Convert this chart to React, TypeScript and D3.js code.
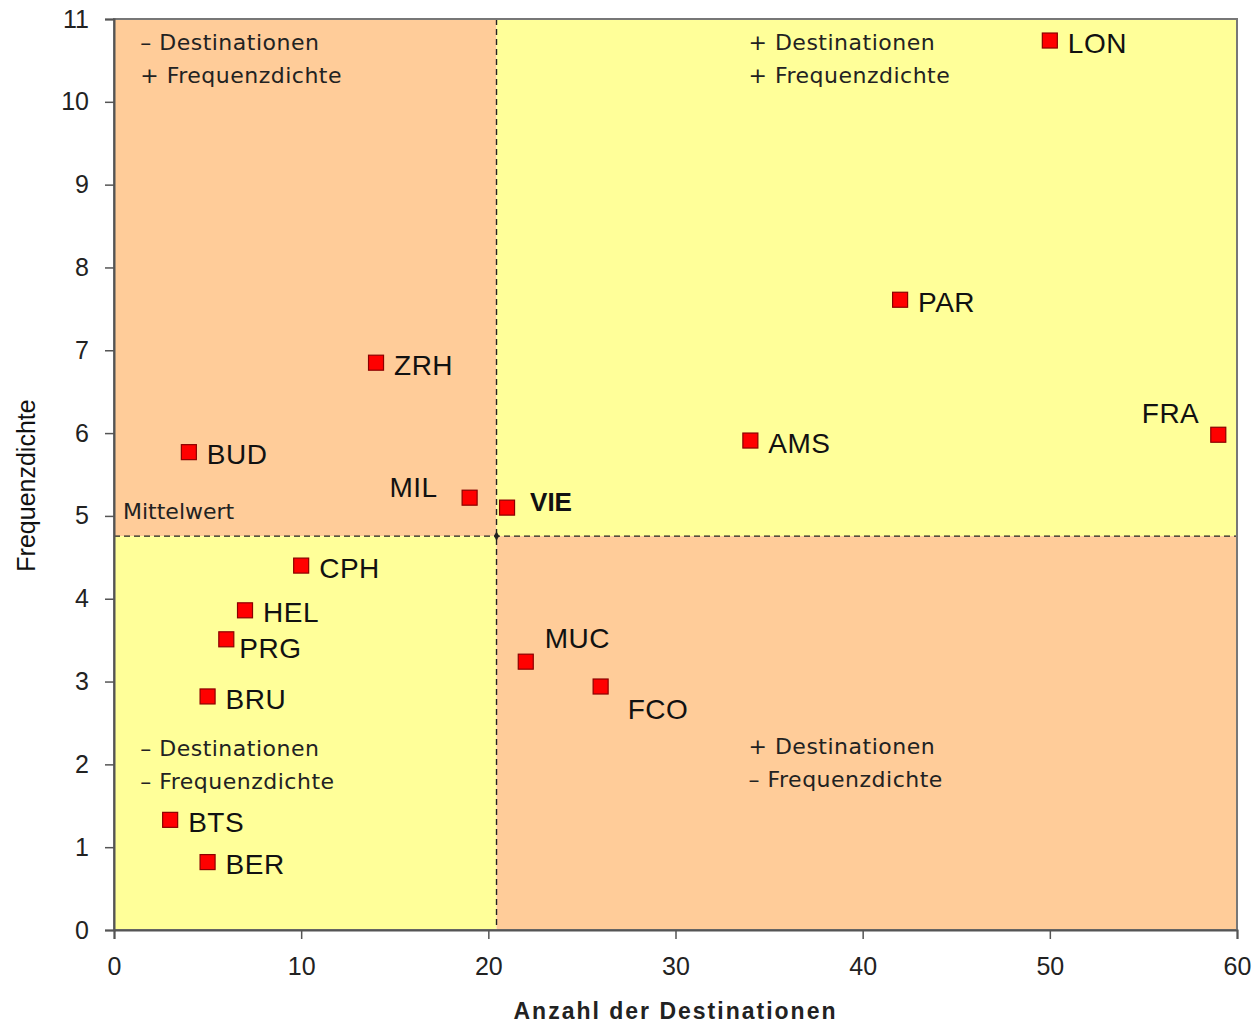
import { useEffect, useRef } from 'react';
import * as d3 from 'd3';

// airports: destinations count vs frequency density
const CODES = ['LON', 'PAR', 'FRA', 'AMS', 'ZRH', 'BUD', 'MIL', 'VIE', 'CPH', 'HEL', 'PRG', 'BRU', 'BTS', 'BER', 'MUC', 'FCO'];
const DESTINATIONS = [50, 42, 59, 34, 14, 4, 19, 21, 10, 7, 6, 5, 3, 5, 22, 26];
const FREQUENCY = [10.74, 7.61, 5.98, 5.91, 6.85, 5.77, 5.22, 5.1, 4.4, 3.86, 3.51, 2.82, 1.33, 0.82, 3.24, 2.94];
// where each label sits relative to its marker
const LABEL_SIDE = ['right', 'right', 'upLeft', 'right', 'right', 'right', 'left', 'bold', 'right', 'right', 'lowRight', 'right', 'right', 'right', 'upRight', 'downRight'];

const X_TICKS = [0, 10, 20, 30, 40, 50, 60];
const Y_TICKS = [0, 1, 2, 3, 4, 5, 6, 7, 8, 9, 10, 11];

// quadrant captions, anchored in data units
const QUAD_LINES = [
  ['– Destinationen', '+ Frequenzdichte'],
  ['+ Destinationen', '+ Frequenzdichte'],
  ['– Destinationen', '– Frequenzdichte'],
  ['+ Destinationen', '– Frequenzdichte'],
];
const QUAD_X = [1.4, 33.9, 1.4, 33.9];
const QUAD_Y = [10.72, 10.72, 2.2, 2.22];

const ORANGE = '#ffcc99';
const YELLOW = '#ffff99';
const ANNO_FONT = '"DejaVu Sans", Verdana, sans-serif';
const AXIS_FONT = '"Liberation Sans", Arial, sans-serif';

export default function App() {
  const ref = useRef<SVGSVGElement>(null);

  useEffect(() => {
    if (!ref.current) return;
    document.body.style.margin = '0';
    const svg = d3.select(ref.current);
    svg.selectAll('*').remove();

    const W = 1252, H = 1024;
    const left = 114, top = 19, right = 1237, bottom = 930;
    const x = d3.scaleLinear().domain([0, 60]).range([left, right]);
    const y = d3.scaleLinear().domain([0, 11]).range([bottom, top]);

    const meanX = d3.mean(DESTINATIONS) as number;
    const meanY = d3.mean(FREQUENCY) as number;

    svg.attr('width', W).attr('height', H);
    const g = svg.append('g');

    // quadrant backgrounds
    const quads = [
      { x0: 0, x1: meanX, y0: meanY, y1: 11, c: ORANGE },
      { x0: meanX, x1: 60, y0: meanY, y1: 11, c: YELLOW },
      { x0: 0, x1: meanX, y0: 0, y1: meanY, c: YELLOW },
      { x0: meanX, x1: 60, y0: 0, y1: meanY, c: ORANGE },
    ];
    g.selectAll('rect.quad').data(quads).join('rect')
      .attr('x', d => x(d.x0)).attr('y', d => y(d.y1))
      .attr('width', d => x(d.x1) - x(d.x0)).attr('height', d => y(d.y0) - y(d.y1))
      .attr('fill', d => d.c);

    // mean lines
    g.append('line')
      .attr('x1', x(meanX)).attr('x2', x(meanX)).attr('y1', y(11)).attr('y2', y(0))
      .attr('stroke', '#222').attr('stroke-width', 1.4).attr('stroke-dasharray', '6,4');
    g.append('line')
      .attr('x1', x(0)).attr('x2', x(60)).attr('y1', y(meanY)).attr('y2', y(meanY))
      .attr('stroke', '#222').attr('stroke-width', 1.4).attr('stroke-dasharray', '6,4');
    g.append('path')
      .attr('d', d3.symbol(d3.symbolDiamond, 24)() as string)
      .attr('transform', `translate(${x(meanX)},${y(meanY)})`)
      .attr('fill', '#222');

    // plot border
    g.append('rect')
      .attr('x', left).attr('y', top).attr('width', right - left).attr('height', bottom - top)
      .attr('fill', 'none').attr('stroke', '#777').attr('stroke-width', 2);

    // axes
    const xAxis = g.append('g').attr('transform', `translate(0,${bottom})`)
      .call(d3.axisBottom(x).tickValues(X_TICKS).tickSize(9).tickPadding(18).tickFormat(d3.format('d')));
    const yAxis = g.append('g').attr('transform', `translate(${left},0)`)
      .call(d3.axisLeft(y).tickValues(Y_TICKS).tickSize(9).tickPadding(16).tickFormat(d3.format('d')));
    [xAxis, yAxis].forEach(a => {
      a.select('.domain').attr('stroke', '#555').attr('stroke-width', 2);
      a.selectAll('.tick line').attr('stroke', '#555').attr('stroke-width', 1.5);
      a.selectAll('text').attr('fill', '#222').attr('font-size', 25).attr('font-family', AXIS_FONT);
    });

    // axis titles
    g.append('text')
      .attr('x', (left + right) / 2).attr('y', 1019)
      .attr('text-anchor', 'middle').attr('font-family', AXIS_FONT).attr('font-weight', 'bold')
      .attr('font-size', 23).attr('letter-spacing', 2).attr('fill', '#222')
      .text('Anzahl der Destinationen');
    g.append('text')
      .attr('transform', `translate(35,${(top + bottom) / 2 + 11}) rotate(-90)`)
      .attr('text-anchor', 'middle').attr('font-family', AXIS_FONT)
      .attr('font-size', 25).attr('fill', '#111')
      .text('Frequenzdichte');

    // quadrant captions
    QUAD_LINES.forEach((lines, i) => {
      lines.forEach((t, j) => {
        g.append('text')
          .attr('x', x(QUAD_X[i])).attr('y', y(QUAD_Y[i]) + j * 33)
          .attr('dy', '0.35em').attr('font-family', ANNO_FONT).attr('font-size', 22)
          .attr('letter-spacing', 0.5).attr('fill', '#222').text(t);
      });
    });

    g.append('text')
      .attr('x', left + 9).attr('y', y(meanY) - 25).attr('dy', '0.35em')
      .attr('font-family', ANNO_FONT).attr('font-size', 22).attr('fill', '#222')
      .text('Mittelwert');

    // markers
    const pts = CODES.map((c, i) => ({ c, dx: DESTINATIONS[i], fy: FREQUENCY[i], side: LABEL_SIDE[i] }));
    g.selectAll('rect.pt').data(pts).join('rect')
      .attr('x', d => x(d.dx) - 7.5).attr('y', d => y(d.fy) - 7.5)
      .attr('width', 15).attr('height', 15)
      .attr('fill', '#ff0000').attr('stroke', '#8b0000').attr('stroke-width', 1.2);

    const offs: Record<string, [number, number, string]> = {
      right: [18, 2, 'start'],
      bold: [23, -6, 'start'],
      lowRight: [13, 9, 'start'],
      left: [-32, -11, 'end'],
      upLeft: [-19, -22, 'end'],
      upRight: [19, -24, 'start'],
      downRight: [27, 22, 'start'],
    };
    g.selectAll('text.lbl').data(pts).join('text')
      .attr('x', d => x(d.dx) + offs[d.side][0])
      .attr('y', d => y(d.fy) + offs[d.side][1])
      .attr('dy', '0.36em')
      .attr('text-anchor', d => offs[d.side][2])
      .attr('font-family', AXIS_FONT)
      .attr('font-size', d => (d.side === 'bold' ? 26 : 28))
      .attr('letter-spacing', d => (d.side === 'bold' ? 0 : 0.5))
      .attr('font-weight', d => (d.side === 'bold' ? 'bold' : 'normal'))
      .attr('fill', '#111')
      .text(d => d.c);
  }, []);

  return <svg ref={ref} style={{ display: 'block' }} />;
}
